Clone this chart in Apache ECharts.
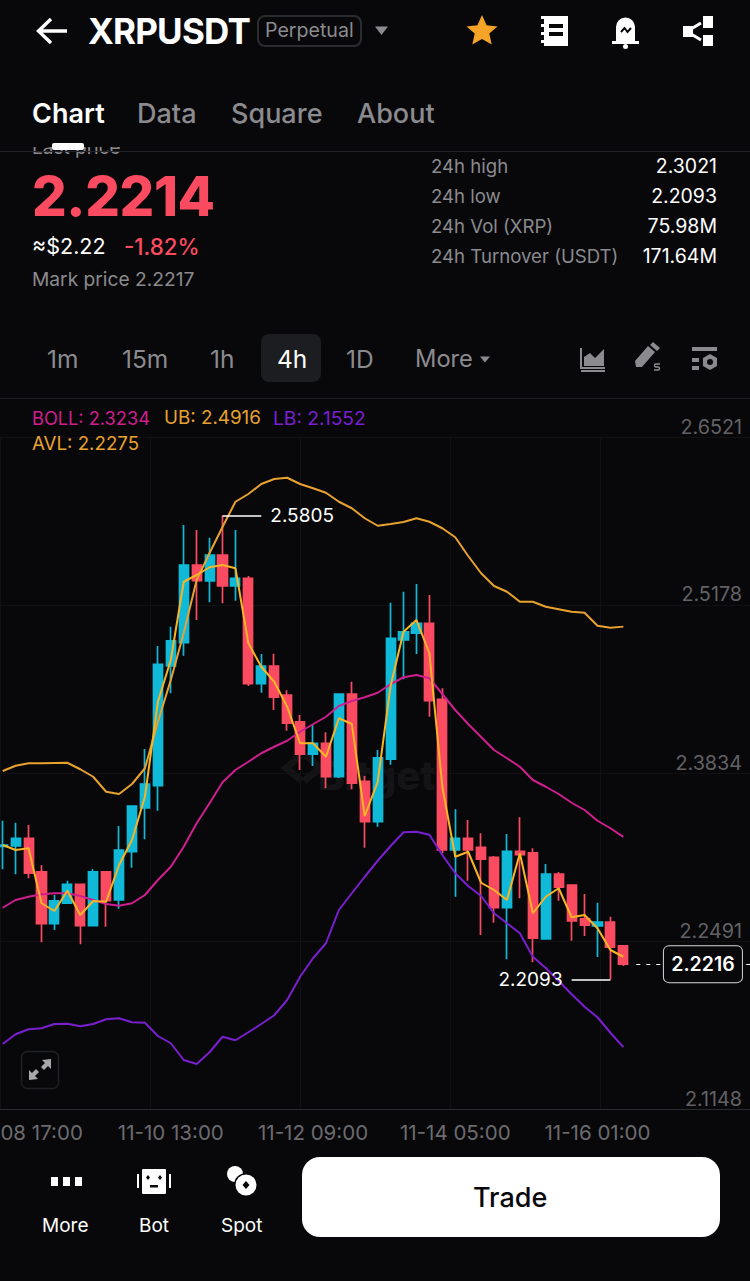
<!DOCTYPE html>
<html><head><meta charset="utf-8">
<script src="https://cdn.jsdelivr.net/npm/echarts@6/dist/echarts.min.js"></script>
<style>
html,body{margin:0;padding:0;background:#08080a;width:750px;height:1281px;overflow:hidden;font-family:Inter,"Noto Sans",sans-serif}
#chart{position:absolute;left:0;top:0;width:750px;height:1281px}
.t{position:absolute;white-space:nowrap;line-height:1}
.g{color:#8b8b8f}.w{color:#fff}
svg.i{position:absolute;left:0;top:0}
</style></head><body>
<div id="chart"></div>
<div id="ui">
<div style="position:absolute;left:0;top:147px;width:300px;height:11px;overflow:hidden"><div class="t g" style="left:32px;top:-9px;font-size:19px">Last price</div></div>
<svg class="i" width="750" height="1281" viewBox="0 0 750 1281">
 <path d="M67 31H39M51 19L38.500 31L51 43" fill="none" stroke="#fff" stroke-width="3.400"/>
 <rect x="258" y="16" width="103" height="30" rx="7" fill="none" stroke="#2b2c2f" stroke-width="2"/>
 <path d="M375 26.500h13l-6.500 8.500z" fill="#8b8b8f"/>
 <path d="M482 15l4.600 10.300 10.900 1.100-8.200 7.200 2.400 11-9.700-5.700-9.700 5.700 2.400-11-8.200-7.200 10.900-1.100z" fill="#f6a428"/>
 <path d="M544 16h24v30h-24v-3h-3v-3h3v-5h-3v-3h3v-5h-3v-3h3v-5h-3v-3h3z" fill="#fff"/>
 <rect x="549" y="24" width="14" height="4" fill="#08080a"/><rect x="549" y="32" width="14" height="4" fill="#08080a"/>
 <path d="M616 41V27a9.500 9.500 0 0 1 19 0V41h4v3h-27v-3z" fill="#fff"/>
 <path d="M621 32l3.500-4 3 4 3.500-4" fill="none" stroke="#08080a" stroke-width="2"/>
 <circle cx="625.500" cy="46.500" r="2.500" fill="#fff"/>
 <path d="M701 23L687 31.500L701 40" fill="none" stroke="#fff" stroke-width="3"/>
 <rect x="683" y="26" width="10" height="11" fill="#fff"/><rect x="703" y="16" width="10" height="12" fill="#fff"/><rect x="703" y="35" width="10" height="11" fill="#fff"/>
 <line x1="0" x2="750" y1="151.500" y2="151.500" stroke="#232427" stroke-width="1"/>
 <rect x="52" y="143" width="32" height="7" rx="2" fill="#fff"/>
 <rect x="261" y="334" width="60" height="48" rx="8" fill="#1c1d20"/>
 <path d="M480 356.500h10l-5 6z" fill="#8b8b8f"/>
 <line x1="0" x2="750" y1="398.500" y2="398.500" stroke="#1d1e21" stroke-width="1"/>
 <path d="M581 348v20h24M581 371h24" fill="none" stroke="#8b8b8f" stroke-width="2"/>
 <path d="M584 366v-9l6-4 5 5 9-9v17z" fill="#8b8b8f"/>
 <path d="M636 367l-1-6 13-15 7 6-13 15zM650 345l3-3 7 6-3 3z" fill="#8b8b8f"/>
 <path d="M660 364h-4q-1.500 0-1.500 1.500t1.500 1.500h2q1.500 0 1.500 1.500t-1.500 1.500h-4" fill="none" stroke="#8b8b8f" stroke-width="1.400"/>
 <path d="M692 347h25v4h-25zM692 358h7v4h-7zM692 366h7v4h-7z" fill="#8b8b8f"/>
 <path d="M710 354l7 4v8l-7 4-7-4v-8z" fill="#8b8b8f"/><circle cx="710" cy="362" r="3" fill="#08080a"/>
 <rect x="21.500" y="1051.500" width="37" height="37" rx="6" fill="#08080a" stroke="#1f2023" stroke-width="1.500"/>
 <path d="M29 1080v-10l3 3 4-4 3 3-4 4 3 3zM51 1059v10l-3-3-4 4-3-3 4-4-3-3z" fill="#a8a8aa"/>
 <rect x="51" y="1177" width="7" height="9" fill="#fff"/><rect x="63" y="1177" width="7" height="9" fill="#fff"/><rect x="75" y="1177" width="7" height="9" fill="#fff"/>
 <rect x="142" y="1169" width="24" height="25" rx="1" fill="#fff"/><rect x="137" y="1174" width="2" height="14" fill="#fff"/><rect x="169" y="1174" width="2" height="14" fill="#fff"/>
 <path d="M148 1175l2 2.500-2 2.500-2-2.500zM160 1175l2 2.500-2 2.500-2-2.500z" fill="#08080a"/><rect x="150" y="1185" width="8" height="2.500" fill="#08080a"/>
 <circle cx="235" cy="1174" r="8" fill="#fff"/>
 <circle cx="246" cy="1185" r="12" fill="#08080a"/><circle cx="246" cy="1185" r="10.500" fill="#fff"/>
 <path d="M246 1181l3.500 4-3.500 4-3.500-4z" fill="#08080a"/>
 <rect x="302" y="1157" width="418" height="80" rx="18" fill="#fff"/>
</svg>
<div class="t w" style="left:88px;top:14px;font-size:35px;font-weight:700;letter-spacing:-0.800px">XRPUSDT</div>
<div class="t g" style="left:265px;top:21px;font-size:19.600px">Perpetual</div>
<div class="t w" style="left:32px;top:100px;font-size:27px;font-weight:600">Chart</div>
<div class="t g" style="left:137px;top:100px;font-size:27px;font-weight:500">Data</div>
<div class="t g" style="left:231px;top:100px;font-size:27px;font-weight:500">Square</div>
<div class="t g" style="left:357px;top:100px;font-size:27px;font-weight:500">About</div>
<div class="t" style="left:32px;top:169px;font-size:54.500px;font-weight:800;color:#fb4b60;letter-spacing:-0.400px">2.2214</div>
<div class="t w" style="left:32px;top:236px;font-size:21.500px">≈$2.22</div>
<div class="t" style="left:124px;top:236px;font-size:22.300px;font-weight:500;color:#fb4b60">-1.82%</div>
<div class="t g" style="left:32px;top:270px;font-size:19.200px">Mark price 2.2217</div>
<div class="t g" style="left:431px;top:157px;font-size:18.600px">24h high</div><div class="t w" style="right:33px;top:157px;font-size:19.500px">2.3021</div>
<div class="t g" style="left:431px;top:187px;font-size:18.600px">24h low</div><div class="t w" style="right:33px;top:187px;font-size:19.500px">2.2093</div>
<div class="t g" style="left:431px;top:217px;font-size:18.600px">24h Vol (XRP)</div><div class="t w" style="right:33px;top:217px;font-size:19.500px">75.98M</div>
<div class="t g" style="left:431px;top:247px;font-size:18.600px">24h Turnover (USDT)</div><div class="t w" style="right:33px;top:247px;font-size:19.500px">171.64M</div>
<div class="t g" style="left:47px;top:347px;font-size:24.500px">1m</div>
<div class="t g" style="left:122px;top:347px;font-size:24.500px">15m</div>
<div class="t g" style="left:210px;top:347px;font-size:24.500px">1h</div>
<div class="t w" style="left:277px;top:347px;font-size:24.500px">4h</div>
<div class="t g" style="left:346px;top:347px;font-size:24.500px">1D</div>
<div class="t g" style="left:415px;top:347px;font-size:23.700px">More</div>
<div class="t" style="left:32px;top:409px;font-size:18.200px;color:#cf1f8f">BOLL: 2.3234</div>
<div class="t" style="left:164px;top:409px;font-size:18.800px;color:#e8a22f">UB: 2.4916</div>
<div class="t" style="left:273px;top:409px;font-size:19.200px;color:#7a1fd0">LB: 2.1552</div>
<div class="t" style="left:32px;top:435px;font-size:18.700px;color:#e8a22f">AVL: 2.2275</div>
<div class="t w" style="left:42px;top:1216px;font-size:19px">More</div>
<div class="t w" style="left:139px;top:1216px;font-size:19px">Bot</div>
<div class="t w" style="left:221px;top:1216px;font-size:19px">Spot</div>
<div class="t" style="left:473px;top:1184px;font-size:27px;font-weight:500;color:#08080a">Trade</div>
</div>
<script>
const categories = ["11-08 09:00","11-08 13:00","11-08 17:00","11-08 21:00","11-09 01:00","11-09 05:00","11-09 09:00","11-09 13:00","11-09 17:00","11-09 21:00","11-10 01:00","11-10 05:00","11-10 09:00","11-10 13:00","11-10 17:00","11-10 21:00","11-11 01:00","11-11 05:00","11-11 09:00","11-11 13:00","11-11 17:00","11-11 21:00","11-12 01:00","11-12 05:00","11-12 09:00","11-12 13:00","11-12 17:00","11-12 21:00","11-13 01:00","11-13 05:00","11-13 09:00","11-13 13:00","11-13 17:00","11-13 21:00","11-14 01:00","11-14 05:00","11-14 09:00","11-14 13:00","11-14 17:00","11-14 21:00","11-15 01:00","11-15 05:00","11-15 09:00","11-15 13:00","11-15 17:00","11-15 21:00","11-16 01:00","11-16 05:00","11-16 09:00"];
const timeTickLabels = ["11-08 17:00","11-10 13:00","11-12 09:00","11-14 05:00","11-16 01:00"];
const priceTicks = [2.1148,2.2491,2.3834,2.5178,2.6521];
const opens = [2.3157,2.3161,2.3223,2.2955,2.2539,2.2703,2.2855,2.2523,2.2955,2.2729,2.3115,2.3465,2.3643,2.4601,2.4787,2.5409,2.5281,2.5489,2.5241,2.5303,2.4459,2.4601,2.4369,2.4155,2.3895,2.3983,2.3715,2.4377,2.3679,2.3355,2.3855,2.4809,2.4863,2.4943,2.4335,2.3129,2.3223,2.3151,2.3071,2.2667,2.3119,2.3107,2.2417,2.2937,2.2849,2.2579,2.2521,2.2553,2.2363];
const closes = [2.3169,2.3223,2.2943,2.2539,2.2723,2.2855,2.2523,2.2955,2.2723,2.3129,2.3481,2.3657,2.4615,2.4803,2.5409,2.5283,2.5489,2.5241,2.5303,2.4459,2.4601,2.4351,2.4143,2.3895,2.3983,2.3715,2.4377,2.3663,2.3355,2.3867,2.4823,2.4875,2.4943,2.4323,2.3129,2.3223,2.3129,2.3055,2.2667,2.3119,2.3091,2.2423,2.2937,2.2831,2.2561,2.2527,2.2553,2.2351,2.2216];
const lows = [2.2975,2.2935,2.2903,2.2391,2.2489,2.2703,2.2375,2.2523,2.2515,2.2659,2.2987,2.3215,2.3443,2.4383,2.4683,2.4969,2.5111,2.5103,2.5123,2.4441,2.4387,2.4249,2.4083,2.3769,2.3801,2.3623,2.3705,2.3615,2.3147,2.3315,2.3811,2.4495,2.4697,2.4195,2.3105,2.2755,2.2883,2.2449,2.2547,2.2255,2.2743,2.2231,2.2417,2.2723,2.2403,2.2441,2.2273,2.2093,2.2201];
const highs = [2.3363,2.3347,2.3329,2.3007,2.2769,2.2883,2.2857,2.2977,2.2955,2.3321,2.3481,2.3937,2.4761,2.4915,2.5729,2.5689,2.5627,2.5805,2.5689,2.5321,2.4697,2.4699,2.4407,2.4209,2.4129,2.4071,2.4377,2.4475,2.3721,2.3929,2.5107,2.5195,2.5257,2.5169,2.4423,2.3455,2.3369,2.3263,2.3081,2.3257,2.3391,2.3143,2.3017,2.2953,2.2851,2.2777,2.2707,2.2595,2.2363];
const ub = [2.3761,2.3803,2.3823,2.3823,2.3825,2.3827,2.3775,2.3715,2.3595,2.3577,2.3657,2.3783,2.4153,2.4489,2.4865,2.5289,2.5505,2.5713,2.5915,2.5977,2.6057,2.6097,2.6107,2.6057,2.6023,2.5987,2.5915,2.5863,2.5783,2.5723,2.5737,2.5753,2.5783,2.5755,2.5703,2.5631,2.5481,2.5343,2.5241,2.5195,2.5115,2.5115,2.5075,2.5055,2.5035,2.5027,2.4923,2.4907,2.4916];
const boll = [2.2667,2.2729,2.2755,2.2775,2.2783,2.2783,2.2761,2.2729,2.2697,2.2683,2.2703,2.2769,2.2889,2.2995,2.3155,2.3343,2.3503,2.3671,2.3769,2.3835,2.3903,2.3955,2.4003,2.4075,2.4135,2.4195,2.4281,2.4321,2.4351,2.4387,2.4455,2.4511,2.4529,2.4503,2.4377,2.4249,2.4137,2.4033,2.3929,2.3863,2.3795,2.3689,2.3635,2.3577,2.3507,2.3449,2.3363,2.3303,2.3234];
const lb = [2.1577,2.1655,2.1695,2.1703,2.1737,2.1739,2.1719,2.1737,2.1775,2.1783,2.1751,2.1747,2.1641,2.1583,2.1449,2.1417,2.1511,2.1635,2.1607,2.1671,2.1737,2.1807,2.1929,2.2115,2.2263,2.2383,2.2649,2.2783,2.2915,2.3043,2.3161,2.3271,2.3275,2.3251,2.3089,2.2943,2.2841,2.2761,2.2623,2.2543,2.2463,2.2275,2.2185,2.2081,2.1975,2.1875,2.1791,2.1667,2.1552];
const avl = [2.3169,2.3129,2.3143,2.2703,2.2641,2.2803,2.2609,2.2721,2.2715,2.3009,2.3209,2.3555,2.4313,2.4649,2.5275,2.5329,2.5391,2.5409,2.5383,2.4783,2.4595,2.4475,2.4275,2.3983,2.3983,2.3875,2.4183,2.4137,2.3401,2.3673,2.4441,2.4875,2.4969,2.4703,2.3635,2.3075,2.3115,2.2867,2.2809,2.2729,2.3103,2.2623,2.2755,2.2823,2.2591,2.2609,2.2503,2.2329,2.2275];
const highPrice = 2.5805, lowPrice = 2.2093, lastPrice = 2.2216;

const FONT = 'Inter, "Noto Sans", sans-serif';
const UP = '#10b9d8', DOWN = '#fb4b60';
const slots = categories.concat(Array(10).fill(''));
const candleData = categories.map((_, i) => [opens[i], closes[i], lows[i], highs[i]]);
const band = 12.93, gridLeft = -3.76, gridWidth = band * slots.length;
const line = (name, data, color) => ({
  name, type: 'line', xAxisIndex: 1, yAxisIndex: 1, data, showSymbol: false, silent: true, z: 5,
  lineStyle: { color, width: 2 }, itemStyle: { color }, emphasis: { disabled: true }, clip: false
});
const isTick = (i, v) => timeTickLabels.includes(v);
const lbl = { show: true, position: 'end', color: '#fff', fontSize: 19, fontFamily: FONT, distance: 9 };
const chart = echarts.init(document.getElementById('chart'), null, { renderer: 'svg', width: 750, height: 1281 });
chart.setOption({
  animation: false, backgroundColor: '#08080a',
  grid: [
    { left: gridLeft, top: 437, width: gridWidth, height: 672, outerBoundsMode: 'none', containLabel: false },
    { left: gridLeft, top: 426, width: gridWidth, height: 672, outerBoundsMode: 'none', containLabel: false },
    { left: 0, top: 437, width: 750, height: 672, outerBoundsMode: 'none', containLabel: false }
  ],
  xAxis: [
    { type: 'category', gridIndex: 0, data: slots,
      axisLine: { lineStyle: { color: '#2a2b2e' } }, axisTick: { show: false },
      axisLabel: { interval: isTick, color: '#6c6c70', fontSize: 20.5, fontFamily: FONT, margin: 13, hideOverlap: false },
      splitLine: { show: false } },
    { type: 'category', gridIndex: 1, data: slots, show: false },
    { type: 'value', gridIndex: 2, min: 0, max: 750, interval: 150,
      axisLine: { show: false }, axisTick: { show: false }, axisLabel: { show: false },
      splitLine: { show: true, lineStyle: { color: '#111114' } } }
  ],
  yAxis: [
    { type: 'value', gridIndex: 0, position: 'right', min: priceTicks[0], max: priceTicks[4],
      axisLine: { show: false },
      axisTick: { show: false, customValues: priceTicks },
      axisLabel: { inside: true, margin: 17, customValues: priceTicks, verticalAlign: 'bottom', lineHeight: 21,
        formatter: v => v.toFixed(4), color: '#626266', fontSize: 19.8, fontFamily: FONT },
      splitLine: { show: true, lineStyle: { color: '#111114' } } },
    { type: 'value', gridIndex: 1, show: false, min: 2.1145, max: 2.6521, scale: true, splitLine: { show: false } },
    { type: 'value', gridIndex: 2, show: false, min: 0, max: 1, splitLine: { show: false } }
  ],
  graphic: [
    { type: 'text', left: 318, top: 755, z: 0, silent: true,
      style: { text: 'Bitget', fill: '#141416', font: '800 40px ' + FONT } },
    { type: 'polyline', z: 0, silent: true,
      shape: { points: [[302, 755], [286, 768], [302, 781]] }, style: { stroke: '#141416', lineWidth: 7, fill: 'none' } },
    { type: 'polyline', z: 0, silent: true,
      shape: { points: [[306, 755], [320, 768], [304, 781]] }, style: { stroke: '#141416', lineWidth: 7, fill: 'none' } }
  ],
  series: [
    { type: 'candlestick', xAxisIndex: 1, yAxisIndex: 1, data: candleData, barWidth: 9.6, z: 3, silent: true, clip: false,
      itemStyle: { color: UP, color0: DOWN, borderColor: UP, borderColor0: DOWN, borderWidth: 1.7 },
      markLine: { silent: true, symbol: 'none', animation: false, precision: 4, z: 6, data: [
        [{ coord: [17, highPrice], lineStyle: { color: '#fff', width: 1.7, type: 'solid' }, label: { ...lbl, formatter: String(highPrice) } }, { coord: [20, highPrice] }],
        [{ coord: [47, lowPrice], lineStyle: { color: '#fff', width: 1.7, type: 'solid' }, label: { ...lbl, formatter: String(lowPrice) } }, { coord: [44, lowPrice] }],
        [{ coord: [49, lastPrice], lineStyle: { color: '#fff', width: 1, type: [4, 6] }, label: { show: false } }, { coord: [58, lastPrice] }]
      ] },
      markPoint: { silent: true, symbol: 'rect', symbolSize: 0, animation: false, z: 7, data: [
        { coord: [54, lastPrice], symbolOffset: [2, 0], label: { show: true, position: 'inside', formatter: lastPrice.toFixed(4),
          color: '#fff', fontSize: 19.5, fontWeight: 600, fontFamily: FONT, width: 78, height: 36, lineHeight: 36, align: 'center', verticalAlign: 'middle',
          backgroundColor: '#08080a', borderColor: '#d8d8d8', borderWidth: 1, borderRadius: 5 } }
      ] } },
    line('UB', ub, '#e8a22f'),
    line('BOLL', boll, '#cf1f8f'),
    line('LB', lb, '#7a1fd0'),
    line('AVL', avl, '#f7b526')
  ]
});
</script>
</body></html>
